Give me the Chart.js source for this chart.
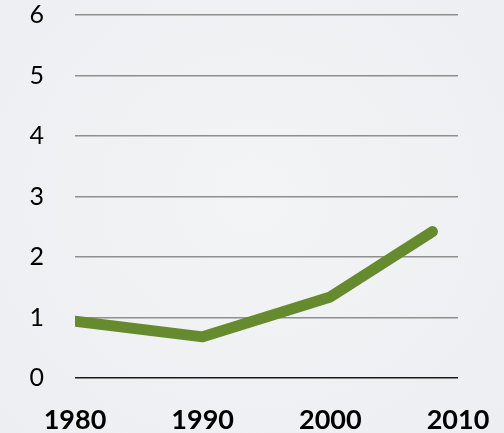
<!DOCTYPE html>
<html><head><meta charset="utf-8">
<script src="https://cdn.jsdelivr.net/npm/chart.js@4/dist/chart.umd.min.js"></script>
<style>
html,body{margin:0;padding:0;background:#eef0f3;}
#wrap{width:504px;height:433px;position:relative;background:radial-gradient(ellipse at 50% 45%, #f3f4f6 0%, #eceef1 100%);}
</style></head>
<body><div id="wrap"><canvas id="c" width="504" height="433"></canvas></div>
<script>
const years = [1980, 1990, 2000, 2008];
const values = [0.94, 0.68, 1.34, 2.42];
const yTicks = [0, 1, 2, 3, 4, 5, 6];
const xTicks = [1980, 1990, 2000, 2010];

new Chart(document.getElementById('c'), {
  type: 'line',
  data: {
    datasets: [{
      data: years.map((y, i) => ({x: y, y: values[i]})),
      borderColor: '#668a2e',
      borderWidth: 11,
      pointRadius: 0,
      borderCapStyle: 'round',
      borderJoinStyle: 'round',
      tension: 0,
      fill: false
    }]
  },
  options: {
    responsive: false,
    animation: false,
    layout: {padding: {top: 15, right: 46, left: 0, bottom: 0}},
    plugins: {legend: {display: false}, tooltip: {enabled: false}},
    scales: {
      x: {
        type: 'linear',
        min: 1980, max: 2010,
        afterBuildTicks: s => { s.ticks = xTicks.map(v => ({value: v})); },
        afterFit: s => { s.height = 55; s.paddingLeft = 0; s.paddingRight = 0; },
        grid: {display: false, drawTicks: false},
        border: {display: false},
        ticks: {
          color: '#000',
          padding: 26,
          maxRotation: 0,
          font: {family: 'Lato', size: 27, weight: 'bold'},
          callback: v => String(v)
        }
      },
      y: {
        min: 0, max: 6,
        afterBuildTicks: s => { s.ticks = yTicks.map(v => ({value: v})); },
        afterFit: s => { s.width = 75; s.paddingTop = 0; s.paddingBottom = 0; },
        grid: {
          drawTicks: false,
          color: c => c.tick && c.tick.value === 0 ? '#1a1a1a' : '#8f8f8f',
          lineWidth: 1.5
        },
        border: {display: false},
        ticks: {
          color: '#000',
          padding: 31,
          font: {family: 'Lato', size: 25}
        }
      }
    }
  }
});
</script></body></html>
